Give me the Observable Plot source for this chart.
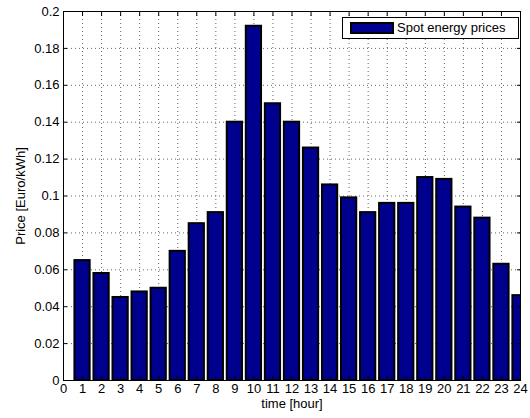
<!DOCTYPE html>
<html>
<head>
<meta charset="utf-8">
<script src="https://cdn.jsdelivr.net/npm/d3@7"></script>
<script src="https://cdn.jsdelivr.net/npm/@observablehq/plot@0.6"></script>
<style>
  body { margin: 0; background: #fff; }
  #wrap { position: relative; width: 530px; height: 418px; font-family: "Liberation Sans", Arial, sans-serif; }
  #legend { position: absolute; left: 342px; top: 17px; width: 177px; height: 22px; box-sizing: border-box;
            border: 1px solid #000; background: #fff; font-size: 13px; color: #000; }
  #legend .sw { position: absolute; left: 7px; top: 4px; width: 44px; height: 12px; box-sizing: border-box;
                border: 2px solid #000; }
  #legend .lab { position: absolute; left: 54px; top: 2px; white-space: nowrap; line-height: 16px; }
</style>
</head>
<body>
<div id="wrap"></div>
<script>
const hours = [1,2,3,4,5,6,7,8,9,10,11,12,13,14,15,16,17,18,19,20,21,22,23,24];
const prices = [0.065,0.058,0.045,0.048,0.050,0.070,0.085,0.091,0.140,0.192,0.150,0.140,
                0.126,0.106,0.099,0.091,0.096,0.096,0.110,0.109,0.094,0.088,0.063,0.046];
const xTicks = [0,1,2,3,4,5,6,7,8,9,10,11,12,13,14,15,16,17,18,19,20,21,22,23,24];
const yTicks = [0,0.02,0.04,0.06,0.08,0.1,0.12,0.14,0.16,0.18,0.2];
const yTickLabels = ["0","0.02","0.04","0.06","0.08","0.1","0.12","0.14","0.16","0.18","0.2"];
const seriesName = "Spot energy prices";
const xLabel = "time [hour]";
const yLabel = "Price [Euro/kWh]";
const barColor = "#00008f";

const data = hours.map((h, i) => ({h, v: prices[i]}));

const chart = Plot.plot({
  width: 530, height: 418,
  marginLeft: 63, marginRight: 10, marginTop: 11, marginBottom: 38,
  style: {fontFamily: "'Liberation Sans', Arial, sans-serif", fontSize: "13px", color: "#000", background: "#fff", overflow: "visible"},
  x: {domain: [0, 24]},
  y: {domain: [0, 0.2]},
  marks: [
    Plot.gridX(xTicks, {stroke: "#666", strokeOpacity: 1, strokeDasharray: "1,3"}),
    Plot.gridY(yTicks, {stroke: "#666", strokeOpacity: 1, strokeDasharray: "1,3"}),
    Plot.rectY(data, {x1: d => d.h - 0.4, x2: d => d.h + 0.4, y: "v", fill: barColor, stroke: "#000", strokeWidth: 2, clip: true}),
    Plot.frame({stroke: "#000", strokeWidth: 1}),
    Plot.axisX(xTicks, {anchor: "bottom", tickSize: -4, tickPadding: 7, label: null, fill: "#000"}),
    Plot.axisX(xTicks, {anchor: "top", tickSize: -4, tickFormat: () => "", label: null}),
    Plot.axisY(yTicks, {anchor: "left", tickSize: -4, tickPadding: 8, tickFormat: (d, i) => yTickLabels[i], label: null, fill: "#000"}),
    Plot.axisY(yTicks, {anchor: "right", tickSize: -4, tickFormat: () => "", label: null}),
    Plot.text([xLabel], {frameAnchor: "bottom", dy: 27, lineAnchor: "bottom", fill: "#000"}),
    Plot.text([yLabel], {frameAnchor: "left", dx: -43, rotate: -90, textAnchor: "middle", lineAnchor: "middle", fill: "#000"})
  ]
});
const wrap = document.getElementById("wrap");
wrap.appendChild(chart);
const leg = document.createElement("div");
leg.id = "legend";
leg.innerHTML = `<div class="sw" style="background:${barColor}"></div><div class="lab">${seriesName}</div>`;
wrap.appendChild(leg);
</script>
</body>
</html>
